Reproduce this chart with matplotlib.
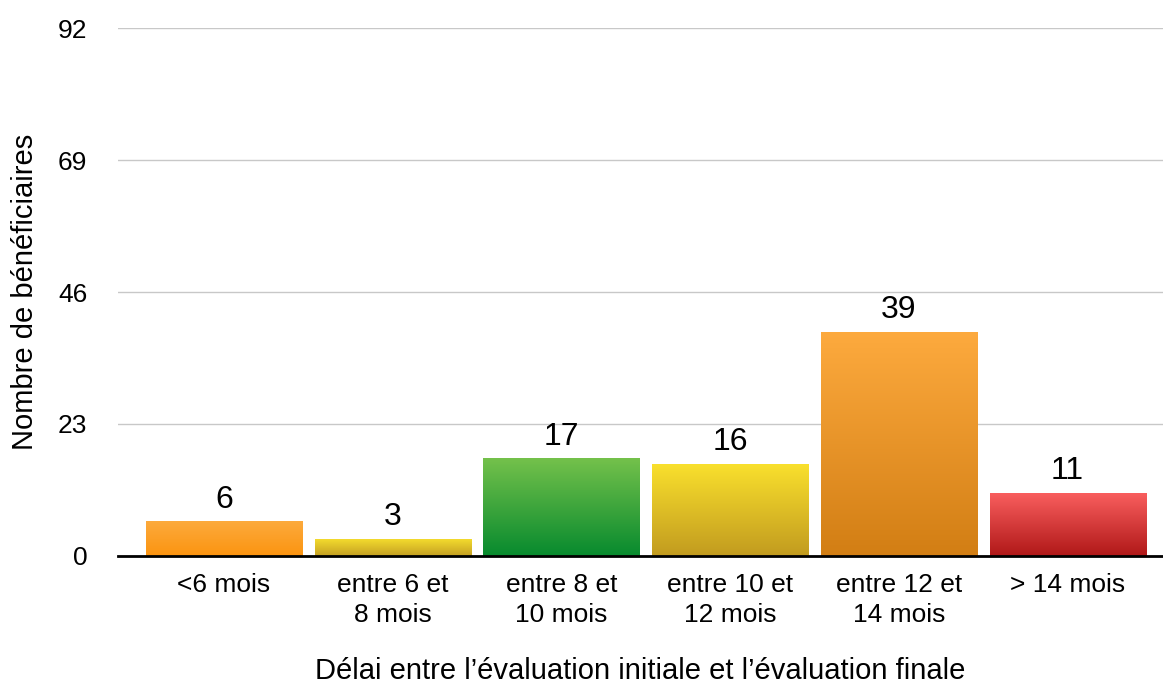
import numpy as np
import matplotlib.pyplot as plt
from matplotlib.colors import LinearSegmentedColormap

plt.rcParams['font.family'] = ['Liberation Sans', 'DejaVu Sans']

categories = ["<6 mois", "entre 6 et\n8 mois", "entre 8 et\n10 mois",
              "entre 10 et\n12 mois", "entre 12 et\n14 mois", "> 14 mois"]
values = [6, 3, 17, 16, 39, 11]
yticks = [0, 23, 46, 69, 92]
# (top colour, bottom colour) of each bar's gradient
colors = [("#fdaa3c", "#fb9410"), ("#f6de2e", "#c4a023"), ("#74c14b", "#078a2e"),
          ("#f9e02d", "#c29b1f"), ("#fdaa3e", "#d27e14"), ("#fa5f5f", "#b01818")]

fig = plt.figure(figsize=(11.63, 6.88), dpi=100)
ax = fig.add_axes([0.1015, 0.192, 0.8985, 0.767])

x = np.arange(len(values))
bars = ax.bar(x, values, width=0.925, color="none", zorder=3)
grad = np.linspace(0, 1, 256).reshape(-1, 1)
for b, (top, bot), v in zip(bars, colors, values):
    cmap = LinearSegmentedColormap.from_list("g", [bot, top])
    x0, w, h = b.get_x(), b.get_width(), b.get_height()
    im = ax.imshow(grad, cmap=cmap, aspect="auto", origin="lower",
                   extent=[x0, x0 + w, 0, h], zorder=3)
    im.set_clip_path(b)
    ax.text(b.get_x() + w / 2, h + 1.2, str(v), ha="center", va="bottom",
            fontsize=23, color="black")

ax.set_xlim(-0.628, 5.565)
ax.set_ylim(0, 92)
ax.set_yticks(yticks)
ax.set_yticklabels([str(t) for t in yticks], fontsize=19)
ax.set_xticks(x)
ax.set_xticklabels(categories, fontsize=19, linespacing=1.32)
ax.tick_params(axis="both", length=0)
ax.tick_params(axis="y", pad=22)
ax.tick_params(axis="x", pad=12)
ax.grid(axis="y", color="#c8c8c8", linewidth=1, zorder=0)
for s in ["top", "right", "left"]:
    ax.spines[s].set_visible(False)
ax.spines["bottom"].set_linewidth(2)
ax.spines["bottom"].set_zorder(4)

ax.set_ylabel("Nombre de bénéficiaires", fontsize=21, labelpad=14)
ax.set_xlabel("Délai entre l’évaluation initiale et l’évaluation finale",
              fontsize=21, labelpad=22)

fig.savefig("out.png", dpi=100)
